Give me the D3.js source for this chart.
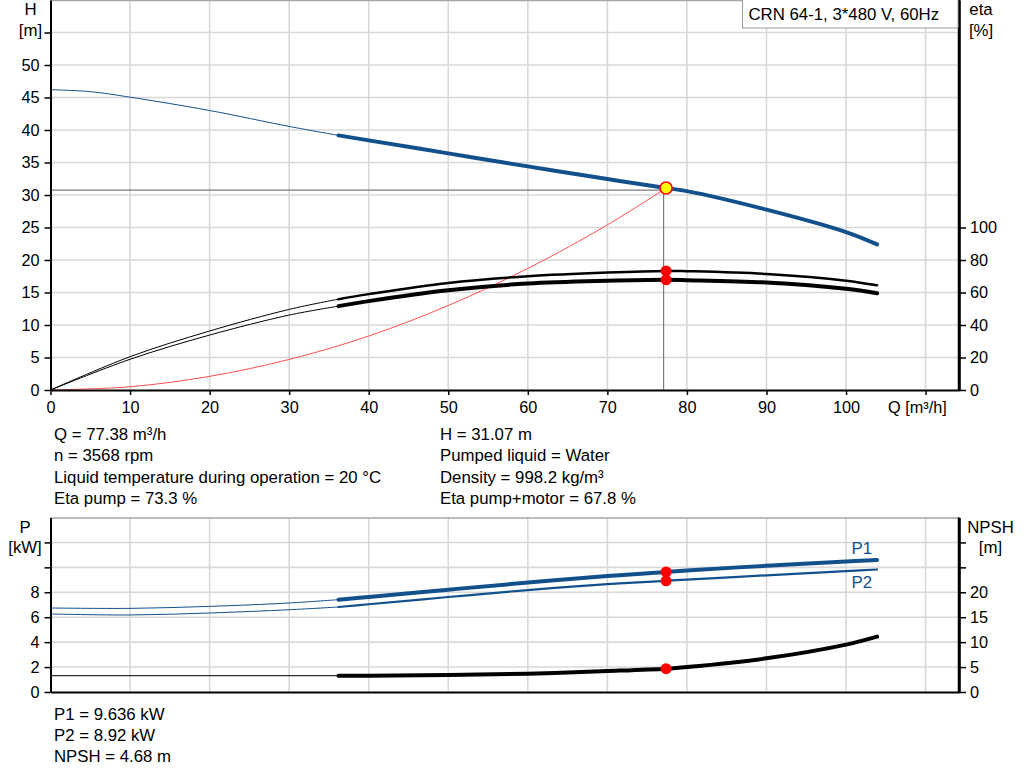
<!DOCTYPE html>
<html>
<head>
<meta charset="utf-8">
<script src="https://cdn.jsdelivr.net/npm/d3@7"></script>
<style>
  body { margin: 0; background: #fff; }
  svg text { font-family: "Liberation Sans", Arial, sans-serif; fill: #000; }
</style>
</head>
<body>
<div id="chart"></div>
<script>
// pump curve data
const qOpStart = 36.2;          // start of the operating (bold) range
const duty = { q: 77.38, h: 31.07, etaP: 73.3, etaT: 67.8, p1: 9.636, p2: 8.92, npsh: 4.68 };

const qHead = [0, 5, 10, 20, 30, 36.2, 40, 50, 60, 70, 77.38, 80, 90, 100, 103.9];
const headVals = [46.2, 45.9, 45.05, 43.0, 40.55, 39.17, 38.4, 36.4, 34.4, 32.45, 31.07, 30.6, 27.75, 24.3, 22.4];

const qEta = [0, 10, 20, 30, 36.2, 40, 50, 60, 70, 77.38, 80, 90, 100, 103.9];
const etaPump = [0, 20.5, 36.3, 49.6, 55.9, 59.0, 65.9, 70.0, 72.3, 73.3, 73.1, 71.4, 67.3, 64.4];
const etaTotal = [0, 18.9, 33.8, 46.1, 51.6, 54.7, 61.4, 65.5, 67.2, 67.8, 67.6, 66.2, 62.3, 59.5];

const qSys = [0, 10, 20, 30, 40, 50, 60, 70, 77.38];
const sysHead = [0, 0.5, 2.1, 4.7, 8.3, 13.0, 18.7, 25.4, 31.07];

const qPow = [0, 10, 20, 30, 36.2, 40, 50, 60, 70, 77.38, 80, 90, 100, 103.9];
const p1Vals = [6.74, 6.71, 6.87, 7.14, 7.41, 7.62, 8.21, 8.78, 9.3, 9.636, 9.75, 10.13, 10.47, 10.6];
const p2Vals = [6.26, 6.18, 6.34, 6.6, 6.82, 7.04, 7.62, 8.18, 8.65, 8.92, 9.02, 9.36, 9.7, 9.83];

const qNpsh = [0, 36.2, 40, 50, 60, 70, 77.38, 80, 90, 100, 103.9];
const npshVals = [3.27, 3.27, 3.27, 3.4, 3.67, 4.2, 4.68, 5.0, 6.75, 9.5, 11.1];

const qTicks = [0, 10, 20, 30, 40, 50, 60, 70, 80, 90, 100, 110];
const hTicks = [0, 5, 10, 15, 20, 25, 30, 35, 40, 45, 50, 55];
const etaTicks = [0, 20, 40, 60, 80, 100];
const pTicks = [0, 2, 4, 6, 8, 10, 12];
const npshTicks = [0, 5, 10, 15, 20, 25, 30];

const titleText = "CRN 64-1, 3*480 V, 60Hz";
const infoLeft = ["Q = 77.38 m³/h", "n = 3568 rpm", "Liquid temperature during operation = 20 °C", "Eta pump = 73.3 %"];
const infoRight = ["H = 31.07 m", "Pumped liquid = Water", "Density = 998.2 kg/m³", "Eta pump+motor = 67.8 %"];
const infoBottom = ["P1 = 9.636 kW", "P2 = 8.92 kW", "NPSH = 4.68 m"];

const blue = "#12508c";
const gridColor = "#d8d8d8";
const textSize = "16.8px";

const svg = d3.select("#chart").append("svg")
    .attr("width", 1024)
    .attr("height", 781);

// layout
const plotLeft = 50.5, plotRight = 959;
const top1 = 0, bottom1 = 390;
const top2 = 517.5, bottom2 = 692;

const x = d3.scaleLinear().domain([0, 114.2]).range([plotLeft, plotRight]);
const yH = d3.scaleLinear().domain([0, 60]).range([bottom1, top1]);
const yEta = d3.scaleLinear().domain([0, 240]).range([bottom1, top1]);
const yP = d3.scaleLinear().domain([0, 14]).range([bottom2, top2]);
const yN = d3.scaleLinear().domain([0, 35]).range([bottom2, top2]);

// ---------- grids ----------
function drawGrid(yScale, yValues, yTop, yBottom) {
    const g = svg.append("g");
    g.selectAll(".vgrid")
        .data(qTicks.filter(d => d > 0))
        .enter().append("line")
        .attr("x1", d => x(d)).attr("x2", d => x(d))
        .attr("y1", yTop).attr("y2", yBottom)
        .attr("stroke", gridColor).attr("stroke-width", 1.6);
    g.selectAll(".hgrid")
        .data(yValues.filter(d => d > 0))
        .enter().append("line")
        .attr("x1", plotLeft).attr("x2", plotRight)
        .attr("y1", d => yScale(d)).attr("y2", d => yScale(d))
        .attr("stroke", gridColor).attr("stroke-width", 1.6);
    // top border
    g.append("line")
        .attr("x1", plotLeft).attr("x2", plotRight)
        .attr("y1", yTop + 0.5).attr("y2", yTop + 0.5)
        .attr("stroke", "#a6a6a6").attr("stroke-width", 1.5);
}
drawGrid(yH, hTicks, top1, bottom1);
drawGrid(yP, pTicks, top2, bottom2);

// ---------- helpers ----------
function toPoints(qs, vals) {
    return qs.map((q, i) => ({ q: q, v: vals[i] }));
}

function drawCurve(points, yScale, color, thinWidth, thickWidth) {
    const line = d3.line()
        .x(d => x(d.q))
        .y(d => yScale(d.v))
        .curve(d3.curveCatmullRom.alpha(0.5));
    const thin = points.filter(d => d.q <= qOpStart);
    const thick = points.filter(d => d.q >= qOpStart);
    svg.append("path")
        .datum(thin)
        .attr("d", line)
        .attr("fill", "none")
        .attr("stroke", color)
        .attr("stroke-width", thinWidth);
    svg.append("path")
        .datum(thick)
        .attr("d", line)
        .attr("fill", "none")
        .attr("stroke", color)
        .attr("stroke-width", thickWidth)
        .attr("stroke-linecap", "round");
}

// ---------- top chart ----------
// duty guide lines
svg.append("line")
    .attr("x1", plotLeft).attr("x2", x(duty.q))
    .attr("y1", yH(duty.h) + 2).attr("y2", yH(duty.h) + 2)
    .attr("stroke", "#7a7a7a").attr("stroke-width", 1.2);
svg.append("line")
    .attr("x1", x(duty.q) - 2.5).attr("x2", x(duty.q) - 2.5)
    .attr("y1", yH(duty.h)).attr("y2", yH(0))
    .attr("stroke", "#7a7a7a").attr("stroke-width", 1.2);

// system curve
svg.append("path")
    .datum(toPoints(qSys, sysHead))
    .attr("d", d3.line().x(d => x(d.q)).y(d => yH(d.v)).curve(d3.curveCatmullRom.alpha(0.5)))
    .attr("fill", "none")
    .attr("stroke", "#ff3b3b")
    .attr("stroke-width", 0.9);

drawCurve(toPoints(qEta, etaPump), yEta, "#000", 1, 2.5);
drawCurve(toPoints(qEta, etaTotal), yEta, "#000", 1, 4);
drawCurve(toPoints(qHead, headVals), yH, blue, 1, 4);

// axes top
function styleAxis(g, width) {
    g.select(".domain").attr("stroke", "#000").attr("stroke-width", width);
    g.selectAll(".tick line").attr("stroke", "#000").attr("stroke-width", 1.5);
    g.selectAll(".tick text").style("font-size", "16.3px").attr("fill", "#000");
}

svg.append("g")
    .attr("transform", `translate(${plotLeft},0)`)
    .call(d3.axisLeft(yH).tickValues(hTicks).tickSize(6).tickSizeOuter(0).tickPadding(5)
        .tickFormat(d => d <= 50 ? d : ""))
    .call(g => styleAxis(g, 2));

svg.append("g")
    .attr("transform", `translate(0,${bottom1})`)
    .call(d3.axisBottom(x).tickValues(qTicks).tickSize(5).tickSizeOuter(0).tickPadding(6.5)
        .tickFormat(d => d <= 100 ? d : ""))
    .call(g => styleAxis(g, 2));

svg.append("g")
    .attr("transform", `translate(${plotRight},0)`)
    .call(d3.axisRight(yEta).tickValues(etaTicks).tickSize(7).tickSizeOuter(0).tickPadding(4))
    .call(g => styleAxis(g, 2.5));
// right axis line over the full height
svg.append("line")
    .attr("x1", plotRight).attr("x2", plotRight)
    .attr("y1", top1).attr("y2", bottom1)
    .attr("stroke", "#000").attr("stroke-width", 2.5);

// axis titles top
svg.append("text").attr("x", 30.5).attr("y", 15).attr("text-anchor", "middle").style("font-size", textSize).text("H");
svg.append("text").attr("x", 30.5).attr("y", 36).attr("text-anchor", "middle").style("font-size", textSize).text("[m]");
svg.append("text").attr("x", 981).attr("y", 15).attr("text-anchor", "middle").style("font-size", textSize).text("eta");
svg.append("text").attr("x", 981).attr("y", 36).attr("text-anchor", "middle").style("font-size", textSize).text("[%]");
svg.append("text").attr("x", 888).attr("y", 413).style("font-size", "16.3px").text("Q [m³/h]");

// title box
svg.append("rect")
    .attr("x", 742.5).attr("y", -1)
    .attr("width", 215.5).attr("height", 29)
    .attr("fill", "#fff")
    .attr("stroke", "#9a9a9a").attr("stroke-width", 1);
svg.append("text").attr("x", 748.5).attr("y", 20).style("font-size", textSize).text(titleText);

// duty dots top
svg.append("circle")
    .attr("cx", x(duty.q)).attr("cy", yEta(duty.etaP)).attr("r", 5.5).attr("fill", "#ff0000");
svg.append("circle")
    .attr("cx", x(duty.q)).attr("cy", yEta(duty.etaT)).attr("r", 5.5).attr("fill", "#ff0000");
svg.append("circle")
    .attr("cx", x(duty.q)).attr("cy", yH(duty.h)).attr("r", 6)
    .attr("fill", "#ffff00").attr("stroke", "#ff0000").attr("stroke-width", 1.6);

// info text
function drawInfo(lines, x0, y0, step) {
    svg.selectAll(null)
        .data(lines)
        .enter().append("text")
        .attr("x", x0)
        .attr("y", (d, i) => y0 + i * step)
        .style("font-size", textSize)
        .text(d => d);
}
drawInfo(infoLeft, 54, 439.5, 21.5);
drawInfo(infoRight, 440, 439.5, 21.5);

// ---------- bottom chart ----------
drawCurve(toPoints(qNpsh, npshVals), yN, "#000", 1, 4);
drawCurve(toPoints(qPow, p2Vals), yP, blue, 1, 2.2);
drawCurve(toPoints(qPow, p1Vals), yP, blue, 1, 4);

svg.append("g")
    .attr("transform", `translate(${plotLeft},0)`)
    .call(d3.axisLeft(yP).tickValues(pTicks).tickSize(6).tickSizeOuter(0).tickPadding(5)
        .tickFormat(d => d <= 8 ? d : ""))
    .call(g => styleAxis(g, 2));

svg.append("g")
    .attr("transform", `translate(0,${bottom2})`)
    .call(d3.axisBottom(x).tickValues([]).tickSizeOuter(0))
    .call(g => styleAxis(g, 2));

svg.append("g")
    .attr("transform", `translate(${plotRight},0)`)
    .call(d3.axisRight(yN).tickValues(npshTicks).tickSize(7).tickSizeOuter(0).tickPadding(4)
        .tickFormat(d => d <= 20 ? d : ""))
    .call(g => styleAxis(g, 2.5));
svg.append("line")
    .attr("x1", plotRight).attr("x2", plotRight)
    .attr("y1", top2).attr("y2", bottom2)
    .attr("stroke", "#000").attr("stroke-width", 2.5);

// axis titles bottom
svg.append("text").attr("x", 25).attr("y", 533).attr("text-anchor", "middle").style("font-size", textSize).text("P");
svg.append("text").attr("x", 25).attr("y", 553).attr("text-anchor", "middle").style("font-size", textSize).text("[kW]");
svg.append("text").attr("x", 990.5).attr("y", 533).attr("text-anchor", "middle").style("font-size", textSize).text("NPSH");
svg.append("text").attr("x", 990.5).attr("y", 553).attr("text-anchor", "middle").style("font-size", textSize).text("[m]");

// curve labels
svg.append("text").attr("x", 851.5).attr("y", 554).style("font-size", textSize).style("fill", blue).text("P1");
svg.append("text").attr("x", 851.5).attr("y", 588).style("font-size", textSize).style("fill", blue).text("P2");

// duty dots bottom
[[duty.p1, yP], [duty.p2, yP], [duty.npsh, yN]].forEach(([v, s]) => {
    svg.append("circle")
        .attr("cx", x(duty.q)).attr("cy", s(v)).attr("r", 5.5).attr("fill", "#ff0000");
});

drawInfo(infoBottom, 54, 719.5, 21);
</script>
</body>
</html>
